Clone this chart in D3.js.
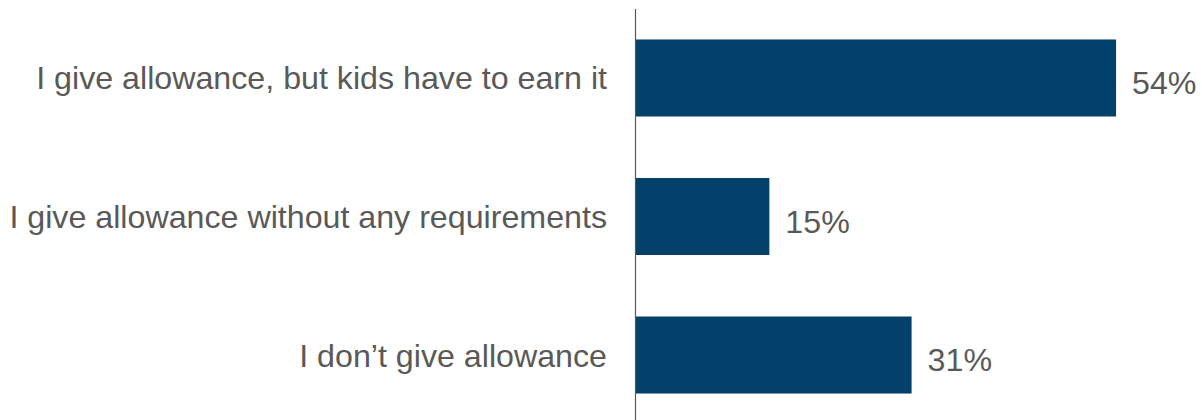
<!DOCTYPE html>
<html><head><meta charset="utf-8">
<script src="https://cdn.jsdelivr.net/npm/d3@7"></script>
<style>html,body{margin:0;padding:0;background:#fff;}svg{display:block;}</style>
</head><body>
<svg id="chart" width="1202" height="420"></svg>
<script>
const categories = ["I give allowance, but kids have to earn it", "I give allowance without any requirements", "I don\u2019t give allowance"];
const values = [54, 15, 31];
const valueLabels = ["54%", "15%", "31%"];

const svg = d3.select("#chart");
const axisX = 636;
const x = d3.scaleLinear().domain([0, 100]).range([axisX, axisX + 889]);
const y = d3.scaleBand().domain(categories).range([9, 424]).paddingInner(0.444).paddingOuter(0.22);

svg.selectAll("rect.bar").data(categories).join("rect")
  .attr("class", "bar")
  .attr("x", x(0))
  .attr("y", d => y(d))
  .attr("width", (d, i) => x(values[i]) - x(0))
  .attr("height", y.bandwidth())
  .attr("fill", "#02416a");

svg.append("line")
  .attr("x1", axisX - 0.5).attr("x2", axisX - 0.5)
  .attr("y1", 9).attr("y2", 420)
  .attr("stroke", "#595959").attr("stroke-width", 1.2);

svg.selectAll("text.cat").data(categories).join("text")
  .attr("class", "cat")
  .attr("x", axisX - 29)
  .attr("y", d => y(d) + y.bandwidth() / 2 + 11.5)
  .attr("text-anchor", "end")
  .attr("font-family", "Liberation Sans, Arial, sans-serif")
  .attr("font-size", 32.2)
  .attr("fill", "#595959")
  .text(d => d);

svg.selectAll("text.val").data(categories).join("text")
  .attr("class", "val")
  .attr("x", (d, i) => x(values[i]) + 16)
  .attr("y", d => y(d) + y.bandwidth() / 2 + 16)
  .attr("font-family", "Liberation Sans, Arial, sans-serif")
  .attr("font-size", 32.2)
  .attr("fill", "#595959")
  .text((d, i) => valueLabels[i]);
</script>
</body></html>
